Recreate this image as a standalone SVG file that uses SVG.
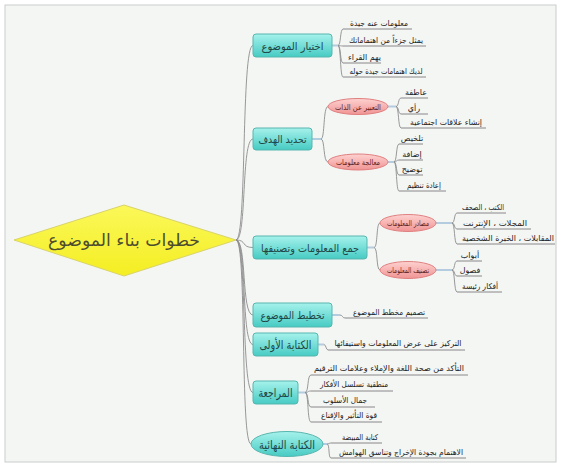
<svg xmlns="http://www.w3.org/2000/svg" width="562" height="469" viewBox="0 0 562 469">
<defs>
<linearGradient id="gTeal" x1="0" y1="0" x2="0" y2="1"><stop offset="0" stop-color="#a6f2ec"/><stop offset="1" stop-color="#46cbc3"/></linearGradient>
<linearGradient id="gPink" x1="0" y1="0" x2="0" y2="1"><stop offset="0" stop-color="#fdd2d0"/><stop offset="1" stop-color="#f09494"/></linearGradient>
<linearGradient id="gYel" x1="0" y1="0" x2="0" y2="1"><stop offset="0" stop-color="#fbf85a"/><stop offset="1" stop-color="#f4ee22"/></linearGradient>
<style>
text{font-family:"DejaVu Sans","Noto Sans",sans-serif;text-anchor:middle}
.main rect,.main ellipse{fill:url(#gTeal);stroke:#58b6ae;stroke-width:1}
.main text{font-size:10.5px;fill:#1f4646}
.big text{font-size:12px}
.sub ellipse{fill:url(#gPink);stroke:#e08080;stroke-width:1}
.sub text{font-size:8px;fill:#5a1e1e}
.leaf text{font-size:8px;fill:#222}
.conn path{fill:none;stroke:#8c8c8c;stroke-width:0.9}
.conn .stub{stroke:#b4cce0;stroke-width:2}
.conn .ul{stroke:#7a7a7a;stroke-width:0.9}
</style>
</defs>
<rect x="0" y="0" width="562" height="469" fill="#ffffff"/>
<rect x="5" y="5" width="551" height="457" fill="#f4f6f4" stroke="#c9cdcd" stroke-width="1"/>

<g id="connectors" class="conn">
<path d="M236,240 C247,240 241,45.5 253,45.5"/>
<path d="M236,240 C247,240 241,139 253,139"/>
<path d="M236,240 C247,240 241,247.5 253,247.5"/>
<path d="M236,240 C247,240 241,315 253,315"/>
<path d="M236,240 C247,240 241,344.5 253,344.5"/>
<path d="M236,240 C247,240 241,392.5 253,392.5"/>
<path d="M236,240 C247,240 240,444 251,444"/>
<!-- B1 -->
<path class="stub" d="M332,45.5 H338"/>
<path d="M338,45.5 C341,45.5 340,29 343,29"/><path class="ul" d="M343,29 H412"/>
<path d="M338,45.5 C341,45.5 340,46 343,46"/><path class="ul" d="M343,46 H426"/>
<path d="M338,45.5 C341,45.5 340,63 343,63"/><path class="ul" d="M343,63 H381"/>
<path d="M338,45.5 C341,45.5 340,77 343,77"/><path class="ul" d="M343,77 H426"/>
<!-- B2 -->
<path class="stub" d="M312,139 H321"/>
<path d="M321,139 C325,139 323,106.5 328,106.5"/>
<path d="M321,139 C325,139 323,162 328,162"/>
<path class="stub" d="M388,106.5 H396"/>
<path d="M396,106.5 C399,106.5 398,98 401,98"/><path class="ul" d="M401,98 H428"/>
<path d="M396,106.5 C399,106.5 398,114 401,114"/><path class="ul" d="M401,114 H428"/>
<path d="M396,106.5 C399,106.5 398,128 401,128"/><path class="ul" d="M401,128 H486"/>
<path class="stub" d="M388,162 H394"/>
<path d="M394,162 C397,162 396,144 399,144"/><path class="ul" d="M399,144 H423"/>
<path d="M394,162 C397,162 396,160 399,160"/><path class="ul" d="M399,160 H423"/>
<path d="M394,162 C397,162 396,175 399,175"/><path class="ul" d="M399,175 H423"/>
<path d="M394,162 C397,162 396,191 399,191"/><path class="ul" d="M399,191 H446"/>
<!-- B3 -->
<path class="stub" d="M367,247.5 H374"/>
<path d="M374,247.5 C378,247.5 376,223 380,223"/>
<path d="M374,247.5 C378,247.5 376,270 380,270"/>
<path class="stub" d="M436,223 H452"/>
<path d="M452,223 C455,223 454,213 457,213"/><path class="ul" d="M457,213 H506"/>
<path d="M452,223 C455,223 454,229 457,229"/><path class="ul" d="M457,229 H531"/>
<path d="M452,223 C455,223 454,244 457,244"/><path class="ul" d="M457,244 H555"/>
<path class="stub" d="M436,270 H452"/>
<path d="M452,270 C455,270 454,261 457,261"/><path class="ul" d="M457,261 H482"/>
<path d="M452,270 C455,270 454,276 457,276"/><path class="ul" d="M457,276 H482"/>
<path d="M452,270 C455,270 454,292 457,292"/><path class="ul" d="M457,292 H502"/>
<!-- B4 -->
<path class="stub" d="M332,315 H340"/>
<path d="M340,315 C343,315 342,318 345,318"/><path class="ul" d="M345,318 H428"/>
<!-- B5 -->
<path class="stub" d="M318,344.5 H324"/>
<path d="M324,344.5 C326,344.5 326,350 328,350"/><path class="ul" d="M328,350 H465"/>
<!-- B6 -->
<path class="stub" d="M298,392.5 H305"/>
<path d="M305,392.5 C309,392.5 307,375 311,375"/><path class="ul" d="M311,375 H468"/>
<path d="M305,392.5 C309,392.5 307,391 311,391"/><path class="ul" d="M311,391 H393"/>
<path d="M305,392.5 C309,392.5 307,407 311,407"/><path class="ul" d="M311,407 H375"/>
<path d="M305,392.5 C309,392.5 307,422 311,422"/><path class="ul" d="M311,422 H382"/>
<!-- B7 -->
<path class="stub" d="M322,444 H327"/>
<path d="M327,444 C329,444 329,443 331,443"/><path class="ul" d="M331,443 H382"/>
<path d="M327,444 C330,444 328,458 331,458"/><path class="ul" d="M331,458 H466"/>
</g>

<g id="root">
<polygon points="14,240 124,205 236,240 124,276" fill="url(#gYel)" stroke="#d9d36a" stroke-width="1"/>
<text x="124" y="246" font-size="17" fill="#4d4d2e" textLength="152" lengthAdjust="spacingAndGlyphs">خطوات بناء الموضوع</text>
</g>

<g id="n1" class="main"><rect x="253" y="34" width="79" height="23" rx="3"/><text x="292.5" y="49.5" textLength="62" lengthAdjust="spacingAndGlyphs">اختيار الموضوع</text></g>
<g id="n2" class="main"><rect x="253" y="128" width="59" height="22" rx="3"/><text x="282.5" y="142.5" textLength="48" lengthAdjust="spacingAndGlyphs">تحديد الهدف</text></g>
<g id="n3" class="main"><rect x="253" y="236" width="114" height="23" rx="3"/><text x="310" y="251.5" textLength="98" lengthAdjust="spacingAndGlyphs">جمع المعلومات وتصنيفها</text></g>
<g id="n4" class="main"><rect x="253" y="303" width="79" height="24" rx="3"/><text x="292.5" y="318.5" textLength="64" lengthAdjust="spacingAndGlyphs">تخطيط الموضوع</text></g>
<g id="n5" class="main big"><rect x="253" y="333" width="65" height="23" rx="3"/><text x="285.5" y="349" textLength="52" lengthAdjust="spacingAndGlyphs">الكتابة الأولى</text></g>
<g id="n6" class="main big"><rect x="253" y="381" width="45" height="23" rx="3"/><text x="275.5" y="397" textLength="34" lengthAdjust="spacingAndGlyphs">المراجعة</text></g>
<g id="n7" class="main big"><ellipse cx="287" cy="444" rx="36" ry="12.5"/><text x="287" y="448.5" textLength="56" lengthAdjust="spacingAndGlyphs">الكتابة النهائية</text></g>

<g id="n2a" class="sub"><ellipse cx="358" cy="106.5" rx="30" ry="8"/><text x="358" y="109.5" textLength="46" lengthAdjust="spacingAndGlyphs">التعبير عن الذات</text></g>
<g id="n2b" class="sub"><ellipse cx="358" cy="162" rx="30" ry="8"/><text x="358" y="165" textLength="44" lengthAdjust="spacingAndGlyphs">معالجة معلومات</text></g>
<g id="n3a" class="sub"><ellipse cx="408" cy="223" rx="28" ry="8.5"/><text x="408" y="226" textLength="42" lengthAdjust="spacingAndGlyphs">مصادر المعلومات</text></g>
<g id="n3b" class="sub"><ellipse cx="408" cy="270" rx="28" ry="8.5"/><text x="408" y="273" textLength="42" lengthAdjust="spacingAndGlyphs">تصنيف المعلومات</text></g>

<g id="n1-leaves" class="leaf">
<text x="379" y="26" textLength="58" lengthAdjust="spacingAndGlyphs">معلومات عنه جيدة</text>
<text x="386" y="43" textLength="74" lengthAdjust="spacingAndGlyphs">يمثل جزءاً من اهتماماتك</text>
<text x="364.5" y="60">يهم القراء</text>
<text x="386" y="74" textLength="73" lengthAdjust="spacingAndGlyphs">لديك اهتمامات جيدة حوله</text>
</g>
<g id="n2a-leaves" class="leaf">
<text x="416" y="95">عاطفة</text>
<text x="414" y="111">رأي</text>
<text x="446" y="125" textLength="72" lengthAdjust="spacingAndGlyphs">إنشاء علاقات اجتماعية</text>
</g>
<g id="n2b-leaves" class="leaf">
<text x="412" y="141">تلخيص</text>
<text x="412" y="157">إضافة</text>
<text x="412" y="172">توضيح</text>
<text x="424" y="188" textLength="34" lengthAdjust="spacingAndGlyphs">إعادة تنظيم</text>
</g>
<g id="n3a-leaves" class="leaf">
<text x="483" y="210" textLength="42" lengthAdjust="spacingAndGlyphs">الكتب ، الصحف</text>
<text x="495" y="226" textLength="64" lengthAdjust="spacingAndGlyphs">المجلات ، الإنترنت</text>
<text x="508" y="241" textLength="92" lengthAdjust="spacingAndGlyphs">المقابلات ، الخبرة الشخصية</text>
</g>
<g id="n3b-leaves" class="leaf">
<text x="470" y="258">أبواب</text>
<text x="470" y="273">فصول</text>
<text x="480" y="289" textLength="36" lengthAdjust="spacingAndGlyphs">أفكار رئيسة</text>
</g>
<g id="n4-leaves" class="leaf">
<text x="389" y="315" textLength="72" lengthAdjust="spacingAndGlyphs">تصميم مخطط الموضوع</text>
</g>
<g id="n5-leaves" class="leaf">
<text x="398" y="346" textLength="127" lengthAdjust="spacingAndGlyphs">التركيز على عرض المعلومات واستيفائها</text>
</g>
<g id="n6-leaves" class="leaf">
<text x="389" y="371" textLength="150" lengthAdjust="spacingAndGlyphs">التأكد من صحة اللغة والإملاء وعلامات الترقيم</text>
<text x="354" y="387" textLength="68" lengthAdjust="spacingAndGlyphs">منطقية تسلسل الأفكار</text>
<text x="345" y="403" textLength="44" lengthAdjust="spacingAndGlyphs">جمال الأسلوب</text>
<text x="349" y="418" textLength="56" lengthAdjust="spacingAndGlyphs">قوة التأثير والإقناع</text>
</g>
<g id="n7-leaves" class="leaf">
<text x="360" y="440" textLength="36" lengthAdjust="spacingAndGlyphs">كتابة المبيضة</text>
<text x="401" y="455" textLength="124" lengthAdjust="spacingAndGlyphs">الاهتمام بجودة الإخراج وتناسق الهوامش</text>
</g>
</svg>
